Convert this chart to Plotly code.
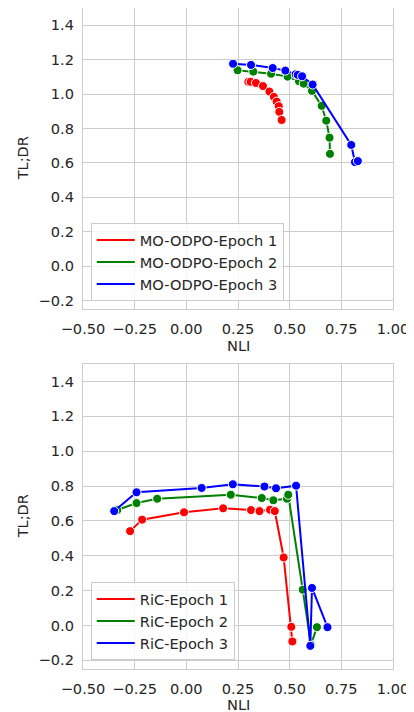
import plotly.graph_objects as go

# MO-ODPO (top panel)
mo_e1_x = [0.300, 0.311, 0.337, 0.371, 0.402, 0.424, 0.437, 0.447, 0.450, 0.461]
mo_e1_y = [1.071, 1.071, 1.064, 1.046, 1.014, 0.983, 0.956, 0.929, 0.896, 0.849]
mo_e2_x = [0.248, 0.324, 0.410, 0.490, 0.545, 0.568, 0.608, 0.655, 0.677, 0.693, 0.695]
mo_e2_y = [1.138, 1.130, 1.118, 1.101, 1.074, 1.060, 1.018, 0.931, 0.845, 0.746, 0.652]
mo_e3_x = [0.226, 0.313, 0.418, 0.479, 0.529, 0.539, 0.560, 0.611, 0.798, 0.816, 0.830]
mo_e3_y = [1.176, 1.169, 1.151, 1.136, 1.115, 1.111, 1.103, 1.055, 0.704, 0.604, 0.610]

# RiC (bottom panel)
ric_e1_x = [-0.272, -0.214, -0.011, 0.178, 0.313, 0.354, 0.405, 0.428, 0.471, 0.508, 0.513]
ric_e1_y = [0.541, 0.607, 0.649, 0.672, 0.662, 0.656, 0.664, 0.656, 0.390, -0.008, -0.092]
ric_e2_x = [-0.334, -0.241, -0.141, 0.215, 0.365, 0.421, 0.487, 0.493, 0.563, 0.603, 0.632]
ric_e2_y = [0.662, 0.702, 0.727, 0.750, 0.731, 0.718, 0.727, 0.750, 0.205, -0.110, -0.010]
ric_e3_x = [-0.349, -0.241, 0.074, 0.225, 0.378, 0.434, 0.531, 0.600, 0.608, 0.683]
ric_e3_y = [0.656, 0.764, 0.789, 0.810, 0.797, 0.787, 0.802, -0.117, 0.215, -0.010]

x_ticks = [-0.5, -0.25, 0.0, 0.25, 0.5, 0.75, 1.0]
y_ticks = [-0.2, 0.0, 0.2, 0.4, 0.6, 0.8, 1.0, 1.2, 1.4]

FONT = "DejaVu Sans"
TXT = "#262626"
GRID = "#cccccc"
FS = 14.6

fig = go.Figure()


def add_series(x, y, color, name, xa, ya, legend):
    fig.add_trace(go.Scatter(
        x=x, y=y, mode="lines+markers", xaxis=xa, yaxis=ya,
        line={"color": color, "width": 2},
        marker={"color": color, "size": 9, "line": {"color": "white", "width": 1}},
        showlegend=False,
    ))
    # legend entry shows only the line, like seaborn
    fig.add_trace(go.Scatter(
        x=[None], y=[None], mode="lines", xaxis=xa, yaxis=ya,
        line={"color": color, "width": 2}, name=name, legend=legend,
    ))


add_series(mo_e1_x, mo_e1_y, "red", "MO-ODPO-Epoch 1", "x", "y", "legend")
add_series(mo_e2_x, mo_e2_y, "green", "MO-ODPO-Epoch 2", "x", "y", "legend")
add_series(mo_e3_x, mo_e3_y, "blue", "MO-ODPO-Epoch 3", "x", "y", "legend")
add_series(ric_e1_x, ric_e1_y, "red", "RiC-Epoch 1", "x2", "y2", "legend2")
add_series(ric_e2_x, ric_e2_y, "green", "RiC-Epoch 2", "x2", "y2", "legend2")
add_series(ric_e3_x, ric_e3_y, "blue", "RiC-Epoch 3", "x2", "y2", "legend2")

xaxis_style = dict(
    range=[-0.5, 1.0], tickvals=x_ticks, tickformat=".2f",
    showgrid=True, gridcolor=GRID, gridwidth=1, zeroline=False,
    showline=True, linecolor=GRID, linewidth=1.3, mirror=True,
    ticks="", ticklabelstandoff=6,
    tickfont={"size": FS, "color": TXT},
)
yaxis_style = dict(
    range=[-0.25, 1.5], tickvals=y_ticks, tickformat=".1f",
    showgrid=True, gridcolor=GRID, gridwidth=1, zeroline=False,
    showline=True, linecolor=GRID, linewidth=1.3, mirror=True,
    ticks="", ticklabelstandoff=5,
    tickfont={"size": FS, "color": TXT},
)

legend_style = dict(
    bgcolor="rgba(255,255,255,0.8)", bordercolor=GRID, borderwidth=1,
    font={"size": FS, "color": TXT, "family": FONT},
    xanchor="left", yanchor="bottom", itemwidth=38,
)

# axis titles as annotations for exact placement
title_font = {"size": FS, "color": TXT, "family": FONT}
for xr, yr, ny in [("x", "y", 0.490), ("x2", "y2", -0.053)]:
    fig.add_annotation(text="NLI", xref="paper", yref="paper", x=0.5, y=ny,
                       xanchor="center", yanchor="middle", showarrow=False,
                       font=title_font)
    fig.add_annotation(text="TL;DR", xref="paper", yref=yr + " domain", x=-0.194, y=0.5,
                       xanchor="center", yanchor="middle", textangle=-90,
                       showarrow=False, font=title_font)

fig.update_layout(
    width=406, height=704,
    margin={"l": 75, "r": 21, "t": 0, "b": 43},
    paper_bgcolor="white", plot_bgcolor="white",
    font={"family": FONT, "color": TXT, "size": FS},
    xaxis={**xaxis_style, "domain": [0, 1], "anchor": "y"},
    yaxis={**yaxis_style, "domain": [0.5446, 1.0], "anchor": "x"},
    xaxis2={**xaxis_style, "domain": [0, 1], "anchor": "y2"},
    yaxis2={**yaxis_style, "domain": [0.0, 0.4614], "anchor": "x2"},
    legend={**legend_style, "x": 0.025, "y": 0.5567},
    legend2={**legend_style, "x": 0.025, "y": 0.0136},
)

fig.write_html("out.html")
